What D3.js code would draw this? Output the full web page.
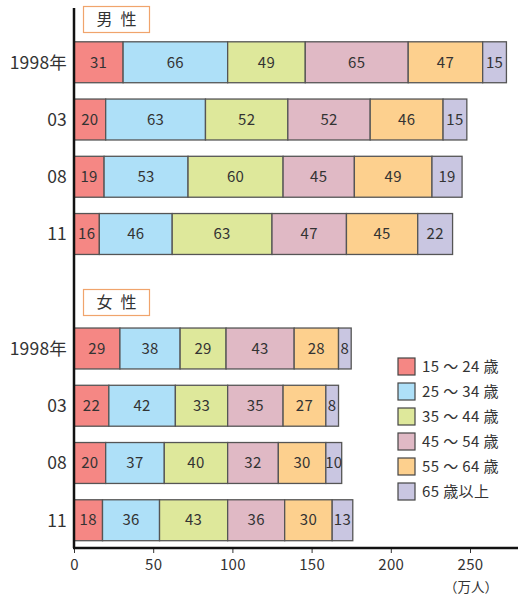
<!DOCTYPE html>
<html>
<head>
<meta charset="utf-8">
<script src="https://cdn.jsdelivr.net/npm/d3@7"></script>
<style>
  body { margin: 0; background: #fff; }
  text { font-family: "Noto Sans CJK JP", "Noto Sans", sans-serif; fill: #333; }
</style>
</head>
<body>
<div id="chart"></div>
<script>
// age groups (legend order)
var ages = ["15 ～ 24 歳", "25 ～ 34 歳", "35 ～ 44 歳", "45 ～ 54 歳", "55 ～ 64 歳", "65 歳以上"];
var colors = ["#f58784", "#aee0f8", "#dee89b", "#e0b9c5", "#fdd08e", "#c9c6e1"];

// years shown for each group
var years = ["1998年", "03", "08", "11"];

// 万人, per age group, per year
var male = [
  [31, 66, 49, 65, 47, 15],
  [20, 63, 52, 52, 46, 15],
  [19, 53, 60, 45, 49, 19],
  [16, 46, 63, 47, 45, 22]
];
var female = [
  [29, 38, 29, 43, 28, 8],
  [22, 42, 33, 35, 27, 8],
  [20, 37, 40, 32, 30, 10],
  [18, 36, 43, 36, 30, 13]
];

var xTicks = [0, 50, 100, 150, 200, 250];

var w = 518, h = 595;
var svg = d3.select("#chart").append("svg")
  .attr("width", w).attr("height", h);

var x = d3.scaleLinear().domain([0, 250]).range([74, 470]);

// 9 row slots: 4 male, 1 empty (female title), 4 female
var rows = ["m0", "m1", "m2", "m3", "gap", "f0", "f1", "f2", "f3"];
var y = d3.scaleBand().domain(rows).range([33.5, 549]).paddingInner(0.285).paddingOuter(0.145);

function drawGroup(data, prefix) {
  data.forEach(function(vals, i) {
    var key = prefix + i;
    var stacked = [];
    var acc = 0;
    vals.forEach(function(v, j) {
      stacked.push({ x0: acc, x1: acc + v, v: v, c: colors[j] });
      acc += v;
    });
    var g = svg.append("g");
    g.selectAll("rect").data(stacked).enter().append("rect")
      .attr("x", function(d) { return x(d.x0); })
      .attr("y", y(key))
      .attr("width", function(d) { return x(d.x1) - x(d.x0); })
      .attr("height", y.bandwidth())
      .attr("fill", function(d) { return d.c; })
      .attr("stroke", "#555")
      .attr("stroke-width", 1.3);
    g.selectAll("text").data(stacked).enter().append("text")
      .attr("x", function(d) { return (x(d.x0) + x(d.x1)) / 2; })
      .attr("y", y(key) + y.bandwidth() / 2)
      .attr("dy", "0.35em")
      .attr("text-anchor", "middle")
      .style("font-size", "15px")
      .style("letter-spacing", "0.3px")
      .text(function(d) { return d.v; });
    svg.append("text")
      .attr("x", 67)
      .attr("y", y(key) + y.bandwidth() / 2)
      .attr("dy", "0.36em")
      .attr("text-anchor", "end")
      .style("font-size", "17.5px")
      .style("letter-spacing", "0.2px")
      .text(years[i]);
  });
}

drawGroup(male, "m");
drawGroup(female, "f");

// group titles
function title(label, ty) {
  svg.append("rect")
    .attr("x", 83.5).attr("y", ty)
    .attr("width", 66).attr("height", 26)
    .attr("fill", "#fff")
    .attr("stroke", "#f0a46c")
    .attr("stroke-width", 1.2);
  svg.append("text")
    .attr("x", 116.5).attr("y", ty + 13)
    .attr("dy", "0.36em")
    .attr("text-anchor", "middle")
    .style("font-size", "16px")
    .text(label);
}
title("男\u2002性", 6.5);
title("女\u2002性", 289.5);

// axes
var axisY = 548;
svg.append("line")
  .attr("x1", 74).attr("x2", 74)
  .attr("y1", 8).attr("y2", axisY)
  .attr("stroke", "#111").attr("stroke-width", 2.5);

var xAxis = svg.append("g")
  .attr("transform", "translate(0," + axisY + ")")
  .call(d3.axisBottom(x).tickValues(xTicks).tickSize(5).tickPadding(6));
xAxis.select(".domain").remove();
xAxis.selectAll(".tick line").attr("stroke", "#333");
xAxis.selectAll(".tick text")
  .style("font-size", "15px")
  .style("letter-spacing", "0.3px")
  .style("font-family", "'Noto Sans CJK JP', sans-serif")
  .attr("fill", "#333");
svg.append("line")
  .attr("x1", 73).attr("x2", 518)
  .attr("y1", axisY).attr("y2", axisY)
  .attr("stroke", "#111").attr("stroke-width", 2.5);

svg.append("text")
  .attr("x", 471).attr("y", 587)
  .attr("dy", "0.35em")
  .attr("text-anchor", "middle")
  .style("font-size", "13.5px")
  .text("（万人）");

// legend
var legend = svg.append("g").attr("transform", "translate(398,358)");
ages.forEach(function(a, i) {
  legend.append("rect")
    .attr("x", 0).attr("y", i * 25)
    .attr("width", 17).attr("height", 17)
    .attr("fill", colors[i])
    .attr("stroke", "#444").attr("stroke-width", 1.2);
  legend.append("text")
    .attr("x", 24).attr("y", i * 25 + 8.5)
    .attr("dy", "0.36em")
    .style("font-size", "15px")
    .style("letter-spacing", "0.4px")
    .text(a);
});
</script>
</body>
</html>
